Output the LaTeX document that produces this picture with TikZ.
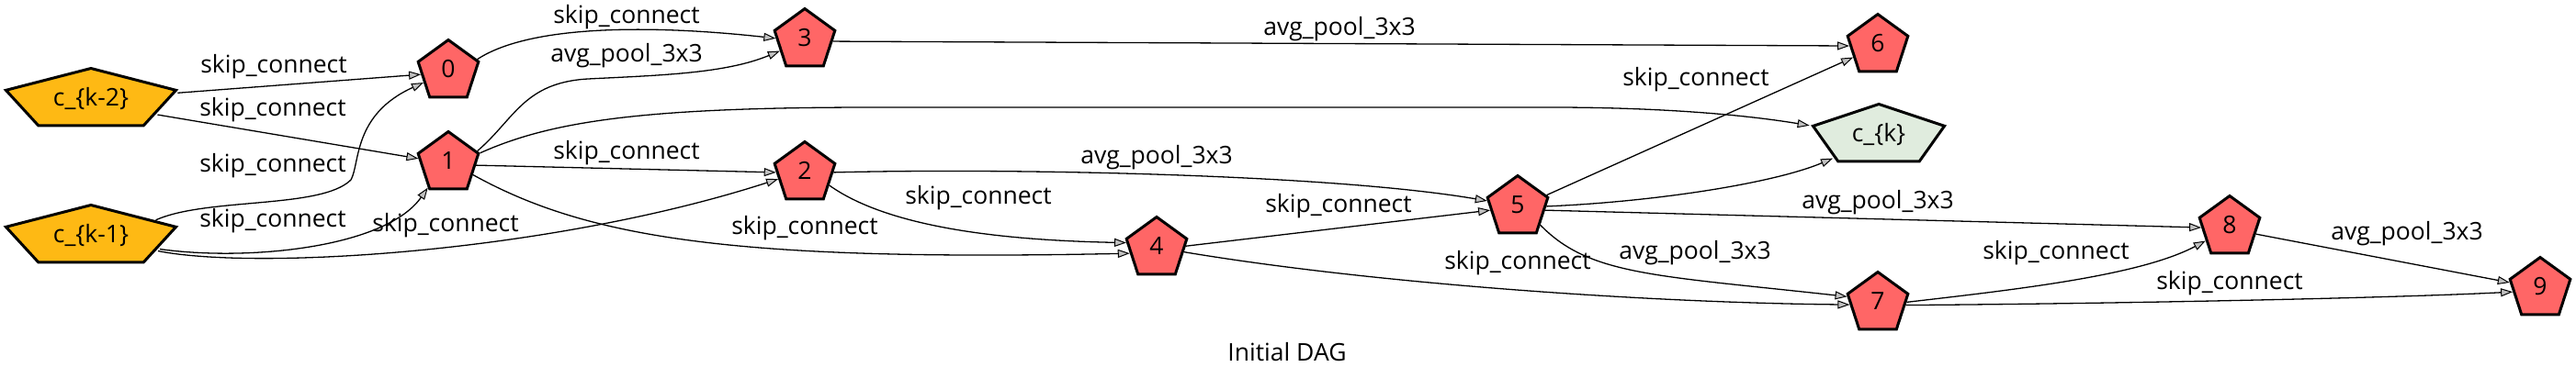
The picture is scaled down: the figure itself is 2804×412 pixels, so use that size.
\documentclass[tikz,border=0pt]{standalone}
\usepackage{fontspec}
\setmainfont{Open Sans}
\usepackage{graphicx}
\usetikzlibrary{shapes.geometric,arrows.meta}
\definecolor{nodered}{RGB}{255,102,102}
\definecolor{inorange}{RGB}{254,185,20}
\definecolor{outgreen}{RGB}{224,236,222}
\definecolor{tipgray}{RGB}{192,192,192}
\tikzset{
  pent/.style={regular polygon, regular polygon sides=5, minimum size=69pt, inner sep=0pt,
    draw=black, line width=3pt, text height=19pt, text depth=6pt,
    font=\fontsize{26.5}{32}\selectfont},
  opnode/.style={pent, fill=nodered},
  conn/.style={draw=black, line width=1.3pt,
    -{Triangle[length=13pt,width=9pt,fill=tipgray,line width=1pt]}},
  lbl/.style={anchor=base, inner sep=0pt, font=\fontsize{26.5}{32}\selectfont},
}
\begin{document}
\begin{tikzpicture}[x=1pt,y=-1pt]
\useasboundingbox[fill=white] (0,0) rectangle (2804,412);
% input and output nodes (stretched pentagons)
\begin{scope}[shift={(99,109)},xscale=2.82]
  \node[pent, transform shape, fill=inorange] (ck2) at (0,0) {\scalebox{0.3546}[1]{c\textunderscore\{k-2\}}};
\end{scope}
\begin{scope}[shift={(99,258)},xscale=2.82]
  \node[pent, transform shape, fill=inorange] (ck1) at (0,0) {\scalebox{0.3546}[1]{c\textunderscore\{k-1\}}};
\end{scope}
\begin{scope}[shift={(2045,148)},xscale=2.18]
  \node[pent, transform shape, fill=outgreen] (ck) at (0,0) {\scalebox{0.4587}[1]{c\textunderscore\{k\}}};
\end{scope}
% intermediate nodes
\node[opnode] (n0) at (488,78) {0};
\node[opnode] (n1) at (488,178) {1};
\node[opnode] (n3) at (876,44) {3};
\node[opnode] (n2) at (876,189) {2};
\node[opnode] (n4) at (1259,271) {4};
\node[opnode] (n5) at (1652,226) {5};
\node[opnode] (n6) at (2044,50) {6};
\node[opnode] (n7) at (2044,331) {7};
\node[opnode] (n8) at (2427,248) {8};
\node[opnode] (n9) at (2765,315) {9};
% edges
\draw[conn] (ck2.13) -- (n0.186);
\draw[conn] (ck2.328) -- (n1.171);
\draw[conn] (ck1.36) .. controls (225,215) and (350,228) .. (382,196) .. controls (392,178) and (384,125) .. (n0.204);
\draw[conn] (ck1.333) .. controls (270,285) and (420,270) .. (n1.230);
\draw[conn] (ck1.329) .. controls (280,295) and (600,275) .. (n2.192);
\draw[conn] (n0.23) .. controls (580,25) and (720,28) .. (n3.176);
\draw[conn] (n1.23) .. controls (560,130) and (570,90) .. (640,86) .. controls (720,82) and (790,80) .. (n3.203);
\draw[conn] (n1.18) .. controls (600,132) and (700,117) .. (950,117) -- (1690,117) .. controls (1780,117) and (1880,122) .. (ck.162);
\draw[conn] (n1.356) -- (n2.178);
\draw[conn] (n1.335) .. controls (640,260) and (800,285) .. (n4.190);
\draw[conn] (n2.2) .. controls (1100,183) and (1450,190) .. (n5.168);
\draw[conn] (n2.334) .. controls (970,250) and (1100,262) .. (n4.169);
\draw[conn] (n4.5) -- (n5.186);
\draw[conn] (n4.353) .. controls (1500,310) and (1800,330) .. (n7.182);
\draw[conn] (n5.23) -- (n6.205);
\draw[conn] (n5.2) .. controls (1800,220) and (1930,200) .. (ck.227);
\draw[conn] (n5.322) .. controls (1730,300) and (1800,300) .. (n7.167);
\draw[conn] (n5.354) -- (n8.180);
\draw[conn] (n3.358) -- (n6.180);
\draw[conn] (n7.3) .. controls (2200,315) and (2330,300) .. (n8.209);
\draw[conn] (n7.357) .. controls (2300,331) and (2600,325) .. (n9.186);
\draw[conn] (n8.346) -- (n9.168);
% edge labels
\node[lbl] (l1) at (298,79) {skip\textunderscore connect};
\node[lbl] (l2) at (297,126) {skip\textunderscore connect};
\node[lbl] (l3) at (297,187) {skip\textunderscore connect};
\node[lbl] (l4) at (297,247) {skip\textunderscore connect};
\node[lbl] (l5) at (485,252) {skip\textunderscore connect};
\node[lbl] (l6) at (682,26) {skip\textunderscore connect};
\node[lbl] (l7) at (682,67) {avg\textunderscore pool\textunderscore 3x3};
\node[lbl] (l8) at (682,173) {skip\textunderscore connect};
\node[lbl] (l9) at (876,255) {skip\textunderscore connect};
\node[lbl] (l10) at (1259,178) {avg\textunderscore pool\textunderscore 3x3};
\node[lbl] (l11) at (1065,222) {skip\textunderscore connect};
\node[lbl] (l12) at (1457,231) {skip\textunderscore connect};
\node[lbl] (l13) at (1652,293) {skip\textunderscore connect};
\node[lbl] (l14) at (1846,93) {skip\textunderscore connect};
\node[lbl] (l15) at (2044,227) {avg\textunderscore pool\textunderscore 3x3};
\node[lbl] (l16) at (1845,282) {avg\textunderscore pool\textunderscore 3x3};
\node[lbl] (l17) at (1458,38) {avg\textunderscore pool\textunderscore 3x3};
\node[lbl] (l18) at (2238,282) {skip\textunderscore connect};
\node[lbl] (l19) at (2427,315) {skip\textunderscore connect};
\node[lbl] (l20) at (2620,261) {avg\textunderscore pool\textunderscore 3x3};
\node[lbl] (cap) at (1401,393) {Initial DAG};
\end{tikzpicture}
\end{document}
